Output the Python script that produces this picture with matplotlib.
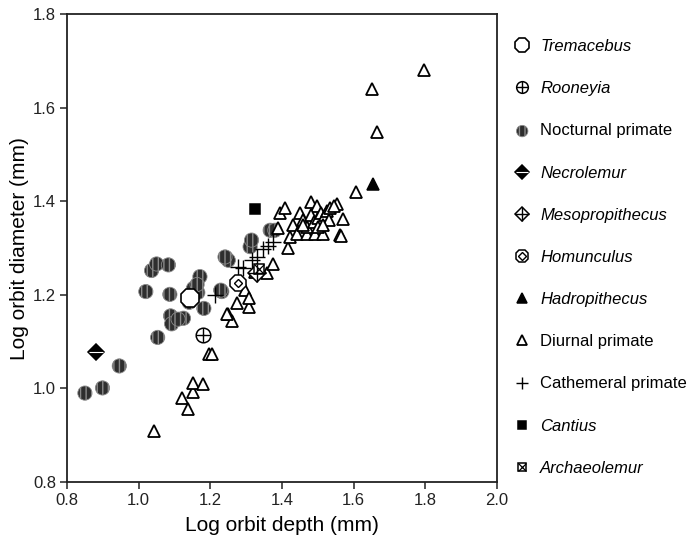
import matplotlib
matplotlib.use("Agg")
import matplotlib.pyplot as plt
from matplotlib.legend_handler import HandlerTuple

plt.rcParams['font.family'] = ['Liberation Sans', 'DejaVu Sans']

# Nocturnal primates
noct_x = [0.850, 0.899, 0.946, 1.053, 1.020, 1.036, 1.050, 1.083, 1.087, 1.089,
          1.092, 1.125, 1.141, 1.153, 1.165, 1.171, 1.182, 1.232, 1.243, 1.250,
          1.229, 1.241, 1.311, 1.315, 1.367, 1.380, 1.163, 1.110]
noct_y = [0.990, 1.001, 1.048, 1.109, 1.207, 1.252, 1.266, 1.264, 1.201, 1.155,
          1.138, 1.150, 1.184, 1.214, 1.205, 1.239, 1.171, 1.207, 1.280, 1.274,
          1.210, 1.281, 1.303, 1.317, 1.338, 1.338, 1.222, 1.148]

# Diurnal primates
diur_x = [1.044, 1.122, 1.139, 1.153, 1.153, 1.179, 1.196, 1.205, 1.250, 1.261,
          1.246, 1.274, 1.297, 1.308, 1.308, 1.325, 1.357, 1.376, 1.390, 1.394,
          1.408, 1.418, 1.422, 1.432, 1.441, 1.450, 1.469, 1.480, 1.492, 1.497,
          1.515, 1.553, 1.562, 1.571, 1.564, 1.607, 1.650, 1.665, 1.797,
          1.460, 1.470, 1.480, 1.490, 1.500, 1.510, 1.520, 1.525, 1.530, 1.500,
          1.535, 1.545, 1.460, 1.515]
diur_y = [0.910, 0.979, 0.957, 0.993, 1.012, 1.009, 1.073, 1.073, 1.158, 1.144,
          1.160, 1.182, 1.210, 1.175, 1.193, 1.249, 1.246, 1.267, 1.342, 1.374,
          1.386, 1.301, 1.324, 1.349, 1.331, 1.374, 1.331, 1.398, 1.331, 1.390,
          1.331, 1.395, 1.328, 1.363, 1.326, 1.419, 1.640, 1.548, 1.680,
          1.360, 1.345, 1.370, 1.355, 1.365, 1.375, 1.370, 1.380, 1.360, 1.345,
          1.385, 1.390, 1.350, 1.350]

# Cathemeral primates
cath_x = [1.213, 1.276, 1.290, 1.315, 1.330, 1.348, 1.376, 1.362]
cath_y = [1.200, 1.259, 1.258, 1.274, 1.280, 1.299, 1.314, 1.305]

# Fossil taxa (single specimens)
fossils = ['Tremacebus', 'Rooneyia', 'Necrolemur', 'Mesopropithecus',
           'Homunculus', 'Hadropithecus', 'Cantius', 'Archaeolemur']
fossil_x = [1.143, 1.179, 0.881, 1.331, 1.276, 1.653, 1.325, 1.335]
fossil_y = [1.193, 1.114, 1.078, 1.246, 1.225, 1.438, 1.383, 1.255]
fx = dict(zip(fossils, fossil_x))
fy = dict(zip(fossils, fossil_y))

fig = plt.figure(figsize=(6.95, 5.44), dpi=100)
ax = fig.add_axes([0.0964, 0.114, 0.6187, 0.860])

h_noct = ax.scatter(noct_x, noct_y, s=105, facecolor='#2e2e2e', edgecolor='#8a8a8a',
                    hatch='|||', linewidths=0.6, zorder=2)
h_diur, = ax.plot(diur_x, diur_y, '^', ms=8.5, mfc='white', mec='black', mew=1.3,
                  ls='none', zorder=3)
h_cath, = ax.plot(cath_x, cath_y, '+', ms=11, mec='black', mew=1.0, ls='none', zorder=4)

def single(name, marker, ms, filled=False, mew=1.1, z=5):
    h, = ax.plot([fx[name]], [fy[name]], marker, ms=ms,
                 mfc='black' if filled else 'white', mec='black', mew=mew,
                 ls='none', zorder=z)
    return h

def overlay(name, marker, ms, color='black', mew=1.0, z=6):
    h, = ax.plot([fx[name]], [fy[name]], marker, ms=ms, mfc='none', mec=color,
                 mew=mew, ls='none', zorder=z)
    return h

h_trem = single('Tremacebus', '8', 14, mew=1.2)
h_roon = single('Rooneyia', 'o', 10.5)
h_roon2 = overlay('Rooneyia', '+', 10.5)
h_necr = single('Necrolemur', 'D', 8.5, filled=True)
h_necr2 = overlay('Necrolemur', '_', 10, color='white', mew=0.8)
h_meso = single('Mesopropithecus', 'D', 9)
h_meso2 = overlay('Mesopropithecus', '+', 12.5)
h_homu = single('Homunculus', '8', 12)
h_homu2 = overlay('Homunculus', 'D', 4.5)
h_hadr = single('Hadropithecus', '^', 9, filled=True)
h_cant = single('Cantius', 's', 7, filled=True)
h_arch = single('Archaeolemur', 's', 7)
h_arch2 = overlay('Archaeolemur', 'x', 6.5, mew=0.9)

ax.set_xlim(0.8, 2.0)
ax.set_ylim(0.8, 1.8)
ax.set_xticks([0.8, 1.0, 1.2, 1.4, 1.6, 1.8, 2.0])
ax.set_yticks([0.8, 1.0, 1.2, 1.4, 1.6, 1.8])
ax.xaxis.set_major_formatter(matplotlib.ticker.FormatStrFormatter('%.1f'))
ax.yaxis.set_major_formatter(matplotlib.ticker.FormatStrFormatter('%.1f'))
ax.tick_params(direction='out', length=5, width=1.1, labelsize=12, colors='#222222',
               pad=3)
for sp in ax.spines.values():
    sp.set_linewidth(1.3)
    sp.set_color('#222222')
ax.set_xlabel('Log orbit depth (mm)', fontsize=15, labelpad=6)
ax.set_ylabel('Log orbit diameter (mm)', fontsize=15, labelpad=3)

handles = [h_trem, (h_roon, h_roon2), h_noct, (h_necr, h_necr2), (h_meso, h_meso2),
           (h_homu, h_homu2), h_hadr, h_diur, h_cath, h_cant, (h_arch, h_arch2)]
labels = ['Tremacebus', 'Rooneyia', 'Nocturnal primate', 'Necrolemur',
          'Mesopropithecus', 'Homunculus', 'Hadropithecus', 'Diurnal primate',
          'Cathemeral primate', 'Cantius', 'Archaeolemur']
italic = {'Tremacebus', 'Rooneyia', 'Necrolemur', 'Mesopropithecus', 'Homunculus',
          'Hadropithecus', 'Cantius', 'Archaeolemur'}
leg = ax.legend(handles, labels, handler_map={tuple: HandlerTuple(ndivide=1, pad=0)},
                loc='upper left', bbox_to_anchor=(1.016, 0.968), frameon=False,
                fontsize=12, labelspacing=1.63, handlelength=1.0, handletextpad=0.58,
                borderaxespad=0.2, markerscale=0.8)
for t in leg.get_texts():
    if t.get_text() in italic:
        t.set_style('italic')

fig.savefig('out.png', dpi=100)
